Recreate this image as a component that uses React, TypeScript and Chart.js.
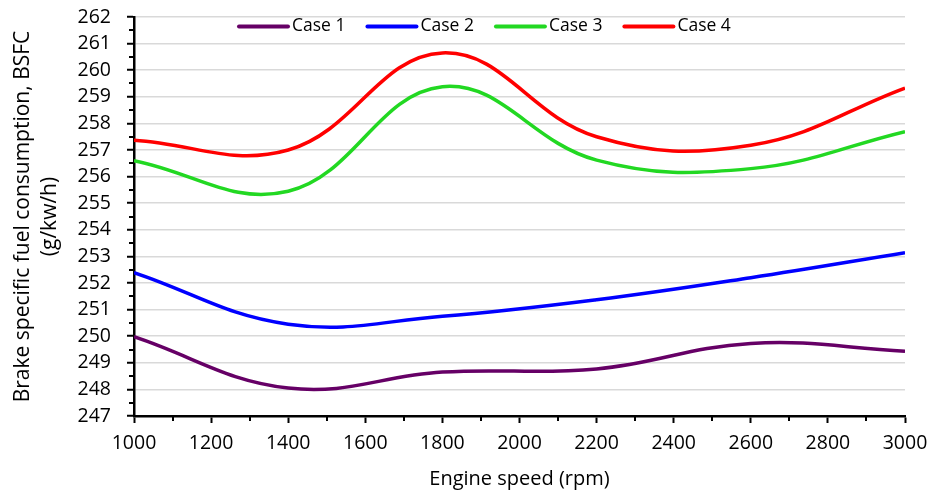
import React, { useEffect, useRef } from "react";
import { Chart, registerables } from "chart.js";

Chart.register(...registerables);

const speeds = [1000, 1400, 1800, 2200, 2600, 3000];
const case1 = [249.98, 248.05, 248.65, 248.77, 249.73, 249.43];
const case2 = [252.39, 250.45, 250.75, 251.37, 252.2, 253.14];
const case3 = [256.6, 255.45, 259.38, 256.62, 256.3, 257.69];
const case4 = [257.37, 257.0, 260.65, 257.5, 257.18, 259.33];
const seriesNames = ["Case 1", "Case 2", "Case 3", "Case 4"];
const seriesColors = ["#660066", "#0000ff", "#22d822", "#ff0000"];
const seriesValues = [case1, case2, case3, case4];

const FONT = "'Open Sans', sans-serif";

const minorTicksPlugin = {
  id: "minorTicks",
  afterDraw(chart: any) {
    const { ctx, chartArea } = chart;
    const x = chart.scales.x;
    const y = chart.scales.y;
    ctx.save();
    ctx.strokeStyle = "#000";
    ctx.lineWidth = 2;
    ctx.beginPath();
    for (let v = x.min + 100; v < x.max; v += 200) {
      const px = Math.round(x.getPixelForValue(v));
      ctx.moveTo(px, chartArea.bottom);
      ctx.lineTo(px, chartArea.bottom + 5);
    }
    for (let v = y.min + 0.5; v < y.max; v += 1) {
      const py = Math.round(y.getPixelForValue(v));
      ctx.moveTo(chartArea.left - 5, py);
      ctx.lineTo(chartArea.left, py);
    }
    ctx.stroke();
    ctx.restore();
  },
};

const legendPlugin = {
  id: "insideLegend",
  afterDraw(chart: any) {
    const { ctx } = chart;
    ctx.save();
    ctx.font = `17.5px ${FONT}`;
    ctx.textBaseline = "middle";
    ctx.textAlign = "left";
    let cx = 239;
    const cy = 26.5;
    chart.data.datasets.forEach((ds: any) => {
      ctx.strokeStyle = ds.borderColor;
      ctx.lineWidth = 4;
      ctx.lineCap = "round";
      ctx.beginPath();
      ctx.moveTo(cx, cy);
      ctx.lineTo(cx + 49, cy);
      ctx.stroke();
      ctx.fillStyle = "#000";
      ctx.fillText(ds.label, cx + 53, cy);
      cx += 53 + ctx.measureText(ds.label).width + 22;
    });
    ctx.restore();
  },
};

export default function App() {
  const ref = useRef<HTMLCanvasElement>(null);
  useEffect(() => {
    if (!ref.current) return;
    const chart = new Chart(ref.current, {
      type: "line",
      data: {
        datasets: seriesNames.map((name, i) => ({
          label: name,
          data: speeds.map((s, j) => ({ x: s, y: seriesValues[i][j] })),
          borderColor: seriesColors[i],
          backgroundColor: seriesColors[i],
          borderWidth: 3.5,
          pointRadius: 0,
          tension: 0.4,
          fill: false,
        })),
      },
      options: {
        animation: false,
        responsive: false,
        devicePixelRatio: 1,
        layout: { padding: { top: 17, right: 27, left: 0, bottom: 0 } },
        plugins: { legend: { display: false }, tooltip: { enabled: false } },
        scales: {
          x: {
            type: "linear",
            min: 1000,
            max: 3000,
            afterFit(s: any) {
              s.height = 75;
              s.paddingLeft = 0;
              s.paddingRight = 0;
            },
            ticks: {
              stepSize: 200,
              autoSkip: false,
              maxRotation: 0,
              padding: 9,
              color: "#000",
              font: { family: FONT, size: 19.5 },
              callback: (v: any) => String(v),
            },
            grid: {
              drawOnChartArea: false,
              tickLength: 7,
              tickColor: "#000",
              tickWidth: 2,
            },
            border: { color: "#000", width: 2.5 },
            title: {
              display: true,
              text: "Engine speed (rpm)",
              color: "#000",
              font: { family: FONT, size: 20 },
              padding: { top: 0, bottom: 0 },
            },
          },
          y: {
            min: 247,
            max: 262,
            afterFit(s: any) {
              s.width = 134;
              s.paddingTop = 0;
              s.paddingBottom = 0;
            },
            ticks: {
              stepSize: 1,
              autoSkip: false,
              padding: 16,
              color: "#000",
              font: { family: FONT, size: 19.5 },
              callback: (v: any) => String(v),
            },
            grid: {
              color: "#d9d9d9",
              lineWidth: 1.5,
              tickLength: 7,
              tickColor: "#000",
              tickWidth: 2,
            },
            border: { color: "#000", width: 2.5 },
            title: {
              display: true,
              text: ["Brake specific fuel consumption, BSFC", "(g/kw/h)"],
              color: "#000",
              font: { family: FONT, size: 21, lineHeight: 1.3 },
              padding: { top: 9, bottom: 0 },
            },
          },
        },
      },
      plugins: [minorTicksPlugin, legendPlugin],
    });
    return () => chart.destroy();
  }, []);
  return (
    <div style={{ position: "absolute", left: 0, top: 0, width: 932, height: 491, background: "#fff" }}>
      <canvas ref={ref} width={932} height={491} />
    </div>
  );
}
